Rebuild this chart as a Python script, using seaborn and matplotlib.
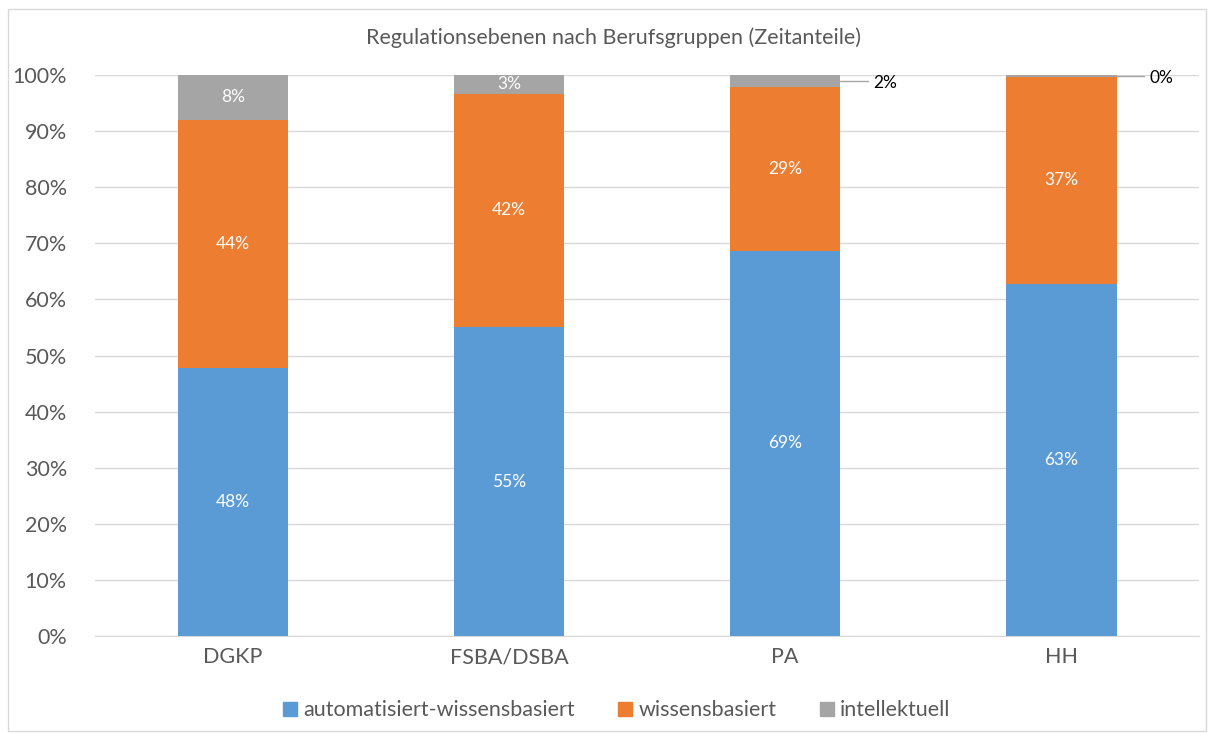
import pandas as pd
import seaborn as sns
import matplotlib.pyplot as plt
from matplotlib.patches import Rectangle
from matplotlib.ticker import PercentFormatter

groups = ['DGKP', 'FSBA/DSBA', 'PA', 'HH']
auto = [47.8, 55.1, 68.7, 62.8]
wissen = [44.2, 41.5, 29.1, 36.8]
intell = [8.0, 3.4, 2.2, 0.4]
labels_auto = ['48%', '55%', '69%', '63%']
labels_wissen = ['44%', '42%', '29%', '37%']
labels_intell = ['8%', '3%', '2%', '0%']
series_names = ['automatisiert-wissensbasiert', 'wissensbasiert', 'intellektuell']
colors = ['#5b9bd5', '#ed7d31', '#a5a5a5']

df = pd.DataFrame({'Gruppe': groups, 'auto': auto, 'wissen': wissen, 'intell': intell})
df['b2'] = df['auto'] + df['wissen']

sns.set_style('white')
plt.rcParams['font.family'] = ['Lato', 'DejaVu Sans']

fig = plt.figure(figsize=(12.14, 7.33), dpi=100)
ax = fig.add_axes([0.078, 0.132, 0.910, 0.766])
fig.patches.append(Rectangle((0.007, 0.003), 0.986, 0.985, transform=fig.transFigure,
                             fill=False, edgecolor='#d9d9d9', linewidth=1))

sns.barplot(data=df, x='Gruppe', y='auto', color=colors[0], width=0.4, ax=ax,
            saturation=1, edgecolor='none', zorder=3)
sns.barplot(data=df, x='Gruppe', y='wissen', color=colors[1], width=0.4, ax=ax,
            saturation=1, bottom=df['auto'], edgecolor='none', zorder=3)
sns.barplot(data=df, x='Gruppe', y='intell', color=colors[2], width=0.4, ax=ax,
            saturation=1, bottom=df['b2'], edgecolor='none', zorder=3)

# Beschriftungen
for i in range(len(groups)):
    ax.text(i, auto[i] / 2, labels_auto[i], ha='center', va='center', color='white', fontsize=12.5, zorder=4)
    ax.text(i, auto[i] + wissen[i] / 2, labels_wissen[i], ha='center', va='center', color='white', fontsize=12.5, zorder=4)
    top = auto[i] + wissen[i] + intell[i] / 2
    if intell[i] >= 3:
        ax.text(i, top, labels_intell[i], ha='center', va='center', color='white', fontsize=12.5, zorder=4)
    else:
        ax.plot([i + 0.2, i + 0.3], [top, top], color='#a5a5a5', lw=1, zorder=4)
        ax.text(i + 0.32, top - 0.3, labels_intell[i], ha='left', va='center',
                color='black', fontsize=12.5, zorder=4)

ax.set_ylim(0, 100)
ax.set_xlim(-0.5, 3.5)
ax.set_yticks(range(0, 101, 10))
ax.yaxis.set_major_formatter(PercentFormatter(decimals=0))
ax.grid(axis='y', color='#d9d9d9', linewidth=1, zorder=0)
sns.despine(ax=ax, left=True, bottom=False, top=True, right=True)
ax.spines['bottom'].set_color('#d9d9d9')
ax.tick_params(axis='both', length=0, labelsize=15.5, colors='#595959', pad=8)
ax.tick_params(axis='y', pad=20)
ax.set_xlabel('')
ax.set_ylabel('')
fig.text(0.505, 0.948, 'Regulationsebenen nach Berufsgruppen (Zeitanteile)', ha='center', va='center',
         fontsize=15.5, color='#595959')

handles = [Rectangle((0, 0), 1, 1, color=c) for c in colors]
fig.legend(handles, series_names, loc='center', bbox_to_anchor=(0.508, 0.031), ncol=3, frameon=False,
           fontsize=15.5, labelcolor='#595959', handlelength=0.65, handleheight=0.65,
           handletextpad=0.3, columnspacing=2.0)

fig.savefig('out.png', dpi=100)
